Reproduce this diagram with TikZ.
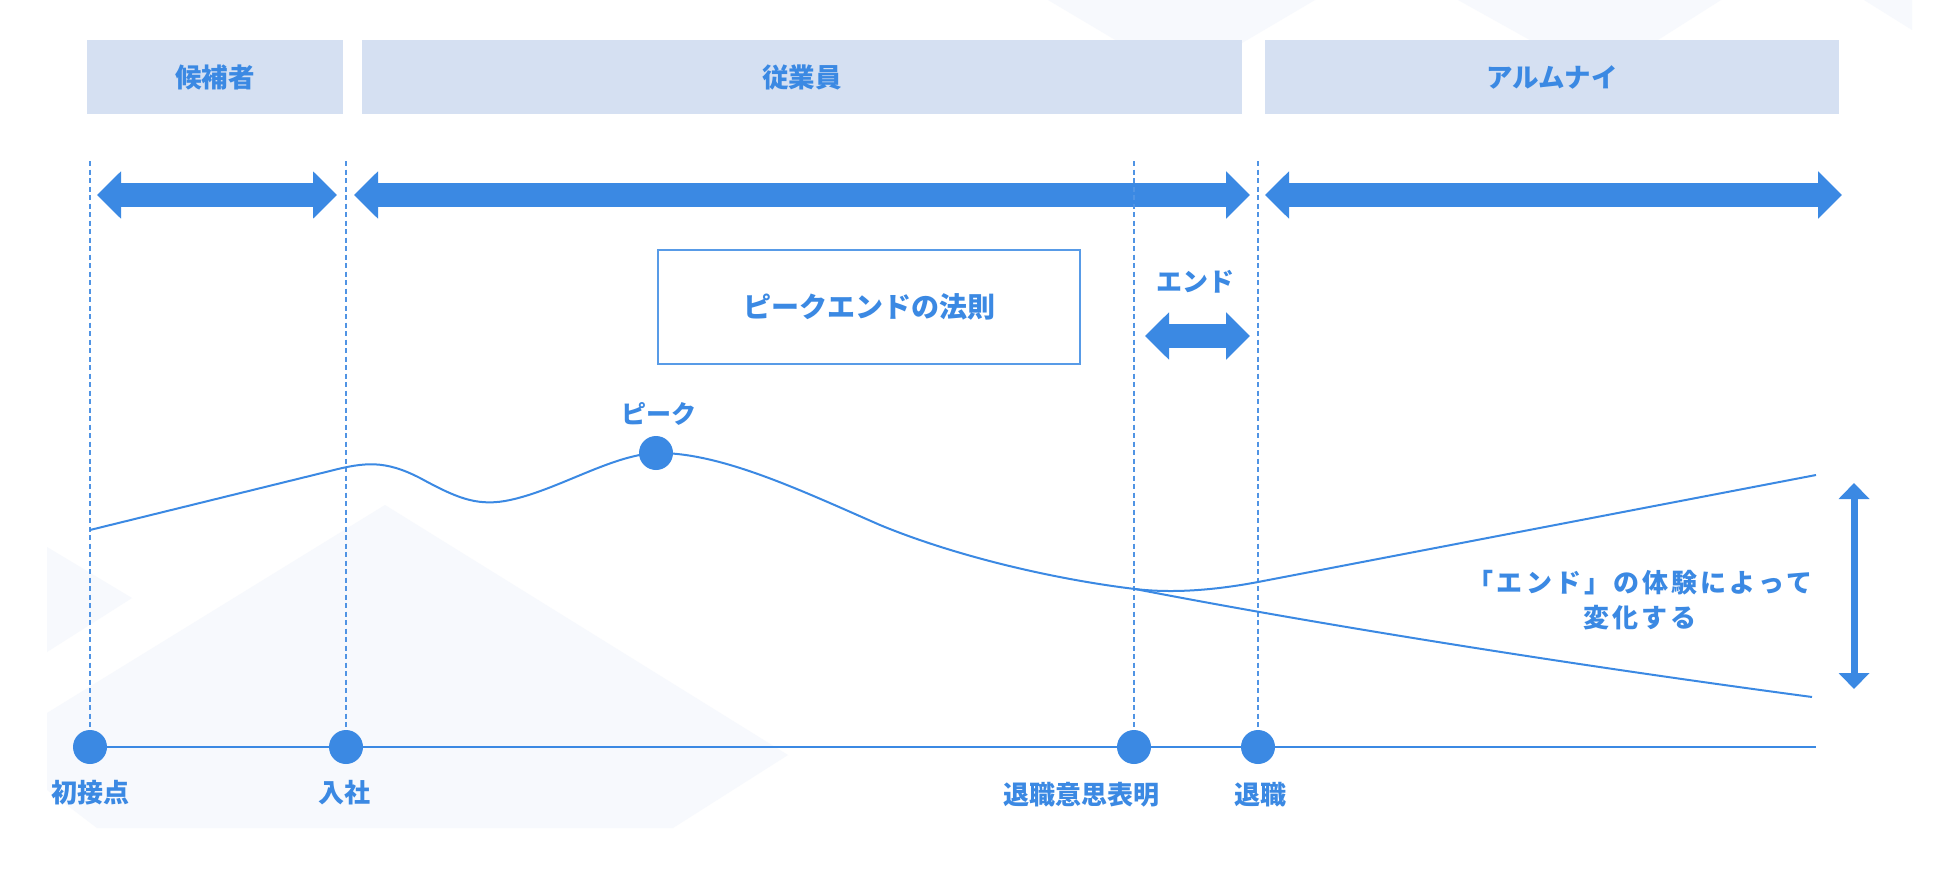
\documentclass[tikz,border=0pt]{standalone}
\usepackage{fontspec}
\setmainfont{Noto Sans CJK JP}
\usepackage{tikz}
\usetikzlibrary{arrows.meta}
\definecolor{pebrand}{RGB}{59,137,227}
\definecolor{pebar}{RGB}{213,224,242}
\definecolor{pefaint}{RGB}{247,249,253}
\definecolor{peguide}{RGB}{80,148,228}

\begin{document}
\begin{tikzpicture}[x=1pt, y=-1pt,
    txt/.style={inner sep=0pt, text=pebrand, font=\bfseries\fontsize{26}{30}\selectfont},
    band/.style={fill=pebar, inner sep=0pt, minimum height=74pt, text=pebrand, font=\bfseries\fontsize{26.5}{30}\selectfont},
    spanarrow/.style={draw=pebrand, line width=24pt, {Triangle[length=24pt,width=46pt]}-{Triangle[length=24pt,width=46pt]}},
    guide/.style={draw=peguide, line width=1.3pt, dash pattern=on 5pt off 3.5pt},
    curve/.style={draw=pebrand, line width=2pt},
    milestone/.style={circle, fill=pebrand, inner sep=0pt, minimum size=34pt}]
  % canvas
  \fill[white] (0,0) rectangle (1950,875);
  \useasboundingbox (0,0) rectangle (1950,875);
  % faint background shapes
  \fill[pefaint] (1048,0) -- (1315,0) -- (1181,79) -- cycle;
  \fill[pefaint] (1458,0) -- (1721,0) -- (1598,78) -- cycle;
  \fill[pefaint] (1864,0) -- (1912,0) -- (1912,30) -- cycle;
  \fill[pefaint] (47,547) -- (132,598) -- (47,652) -- cycle;
  \fill[pefaint] (385,505) -- (788,755) -- (673,828) -- (97,828) -- (47,790) -- (47,713) -- cycle;
  % phase bands
  \node[band, minimum width=256pt] (cand) at (215,77) {候補者};
  \node[band, minimum width=880pt] (staff) at (802,77) {従業員};
  \node[band, minimum width=574pt] (alum) at (1552,77) {アルムナイ};
  % phase spans
  \coordinate (cand-l) at (97,195);
  \coordinate (cand-r) at (337,195);
  \coordinate (staff-l) at (354,195);
  \coordinate (staff-r) at (1250,195);
  \coordinate (alum-l) at (1265,195);
  \coordinate (alum-r) at (1842,195);
  \draw[spanarrow] (cand-l) -- (cand-r);
  \draw[spanarrow] (staff-l) -- (staff-r);
  \draw[spanarrow] (alum-l) -- (alum-r);
  % the rule
  \node[txt, draw=pebrand!85, line width=1.5pt, minimum width=422pt, minimum height=114pt,
    font=\bfseries\fontsize{28}{32}\selectfont] (rule) at (869,307) {ピークエンドの法則};
  \node[txt] (end-lbl) at (1195,282) {エンド};
  \coordinate (end-l) at (1145,336);
  \coordinate (end-r) at (1250,336);
  \draw[spanarrow] (end-l) -- (end-r);
  % time axis
  \node[milestone] (first) at (90,747) {};
  \node[milestone] (join) at (346,747) {};
  \node[milestone] (notice) at (1134,747) {};
  \node[milestone] (leave) at (1258,747) {};
  \coordinate (axis-end) at (1816,747);
  \draw[curve] (first) -- (join) -- (notice) -- (leave) -- (axis-end);
  \node[txt] (first-lbl) at (90,793) {初接点};
  \node[txt] (join-lbl) at (344,793) {入社};
  \node[txt] (notice-lbl) at (1081,795) {退職意思表明};
  \node[txt] (leave-lbl) at (1260,795) {退職};
  % guides
  \coordinate (first-top) at (90,161);
  \coordinate (join-top) at (346,161);
  \coordinate (notice-top) at (1134,161);
  \coordinate (leave-top) at (1258,161);
  \draw[guide] (first-top) -- (first);
  \draw[guide] (join-top) -- (join);
  \draw[guide] (notice-top) -- (notice);
  \draw[guide] (leave-top) -- (leave);
  % experience curve
  \node[milestone] (peak) at (656,453) {};
  \node[txt, font=\bfseries\fontsize{25}{30}\selectfont] (peak-lbl) at (659,414) {ピーク};
  \draw[curve] (90,530) -- (330,471) .. controls (365,462) and (385,460) .. (420,478)
    .. controls (455,497) and (475,506) .. (505,501) .. controls (555,492) and (610,455) .. (peak.center)
    .. controls (720,452) and (800,490) .. (880,525) .. controls (960,558) and (1060,580) .. (1135,589)
    coordinate (fork);
  \draw[curve] (fork) .. controls (1160,592) and (1200,593) .. (1258,582) -- (1816,475);
  \draw[curve] (fork) .. controls (1300,621) and (1550,662) .. (1812,697);
  % gap between endings
  \coordinate (gap-top) at (1854,483);
  \coordinate (gap-bot) at (1854,689);
  \draw[draw=pebrand, line width=7pt, {Triangle[length=16pt,width=30pt]}-{Triangle[length=16pt,width=30pt]}] (gap-top) -- (gap-bot);
  \node[txt, align=center, font=\bfseries\fontsize{26}{35}\selectfont\addfontfeature{LetterSpace=12}] (gap-lbl) at (1640,600)
    {「エンド」の体験によって\\変化する};
\end{tikzpicture}
\end{document}
